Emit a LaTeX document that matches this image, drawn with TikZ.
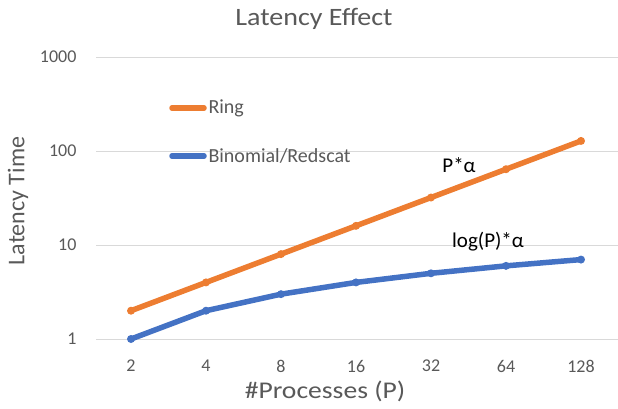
\documentclass[tikz,border=0pt]{standalone}
\usepackage{fontspec}
\setmainfont{Carlito}
\usetikzlibrary{positioning}
\usetikzlibrary{calc}
\definecolor{myorange}{HTML}{ED7D31}
\definecolor{myblue}{HTML}{4472C4}
\definecolor{mygrid}{HTML}{D9D9D9}
\definecolor{mytext}{HTML}{595959}
\tikzstyle{myline}=[#1,line width=5.5pt,line cap=round,line join=round]
\tikzstyle{mydot}=[circle,fill=#1,inner sep=0pt,minimum size=8pt]
\tikzstyle{myticks}=[text=mytext,font=\fontsize{18}{18}\selectfont]
\tikzstyle{mytitle}=[text=mytext,font=\fontsize{24}{24}\selectfont]
\tikzstyle{mynote}=[text=black,font=\fontsize{21}{21}\selectfont]

\begin{document}
\begin{tikzpicture}[x=1pt,y=-1pt]
  \def\yzero{339} % pixel row of value 1
  \def\dec{94}    % height of one decade
  \def\xzero{131} % first category
  \def\dx{75}     % space between categories
  \useasboundingbox (0,0) rectangle (618,408);

  % title and axis titles
  \node[mytitle,font=\fontsize{25}{25}\selectfont,xscale=1.12] (title) at (314,19) {Latency Effect};
  \node[mytitle,rotate=90] (ytitle) at (18,201) {Latency Time};
  \node[mytitle,xscale=1.15] (xtitle) at (325,391) {\#Processes (P)};

  % grid and value labels
  \foreach \v [count=\k from 0] in {1,10,100,1000} {
    \draw[mygrid,line width=1pt] (96,{\yzero-\dec*\k}) -- (618,{\yzero-\dec*\k});
    \node[myticks,anchor=east] (y\k) at (80,{\yzero-\dec*\k}) {\v};
  }

  % categories and data points
  \foreach \p [count=\i] in {2,4,8,16,32,64,128} {
    \node[myticks] (x\i) at ({\xzero+\dx*(\i-1)},366) {\p};
    \pgfmathsetmacro{\yr}{\yzero-\dec*log10(\p)}
    \pgfmathsetmacro{\yb}{\yzero-\dec*log10(\i)}
    \coordinate (r\i) at ({\xzero+\dx*(\i-1)},\yr);
    \coordinate (b\i) at ({\xzero+\dx*(\i-1)},\yb);
  }

  % Ring
  \draw[myline=myorange] (r1) -- (r2) -- (r3) -- (r4) -- (r5) -- (r6) -- (r7);
  \foreach \i in {1,...,7} \node[mydot=myorange] (rd\i) at (r\i) {};

  % Binomial/Redscat
  \draw[myline=myblue] (b1) -- (b2) -- (b3) -- (b4) -- (b5) -- (b6) -- (b7);
  \foreach \i in {1,...,7} \node[mydot=myblue] (bd\i) at (b\i) {};

  % legend
  \coordinate (lr1) at (172,108);
  \coordinate (lr2) at (204,108);
  \draw[myline=myorange] (lr1) -- (lr2);
  \node[mydot=myorange,minimum size=5pt] (lrd) at ($(lr1)!0.5!(lr2)$) {};
  \node[myticks,anchor=west,font=\fontsize{20}{20}\selectfont] (lring) at (205,108) {Ring};
  \coordinate (lb1) at (172,156);
  \coordinate (lb2) at (204,156);
  \draw[myline=myblue] (lb1) -- (lb2);
  \node[mydot=myblue,minimum size=5pt] (lbd) at ($(lb1)!0.5!(lb2)$) {};
  \node[myticks,anchor=west,font=\fontsize{20}{20}\selectfont] (lbin) at (205,156) {Binomial/Redscat};

  % notes
  \node[mynote] (nring) at (459,165) {P*α};
  \node[mynote] (nbin) at (488,242) {log(P)*α};
\end{tikzpicture}
\end{document}
